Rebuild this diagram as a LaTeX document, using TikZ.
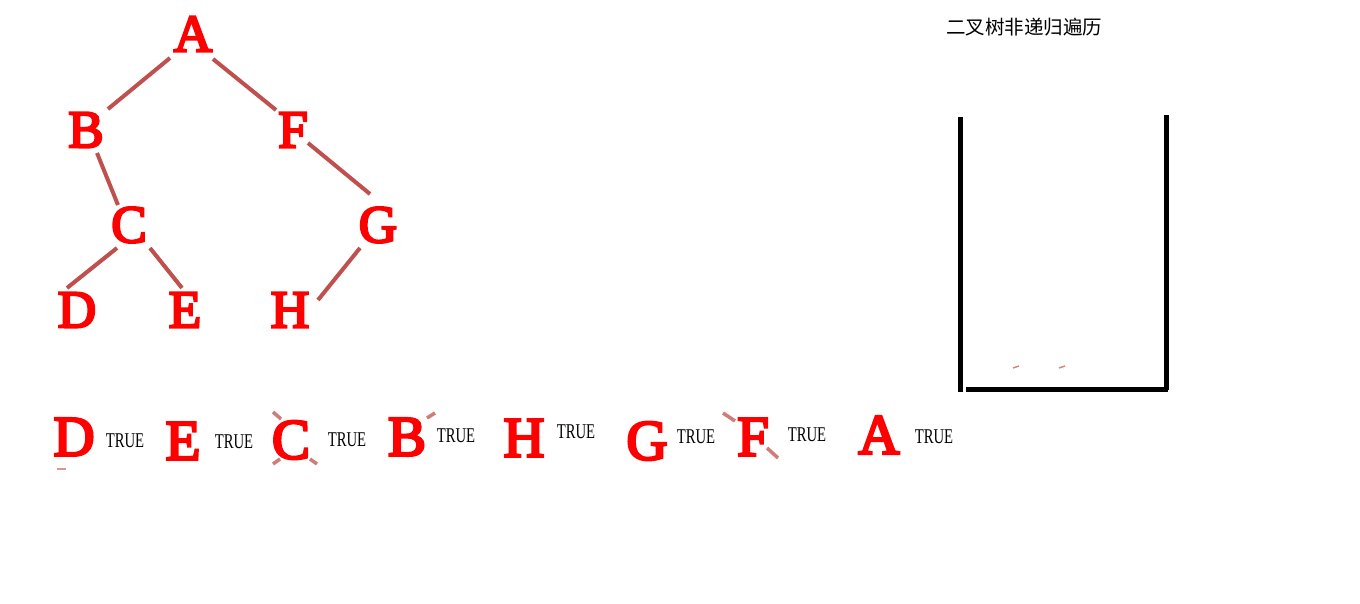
\documentclass[tikz,border=0pt]{standalone}
\usepackage{fontspec}
\setmainfont{Liberation Serif}
\newfontfamily\letterfont{Liberation Serif}[FakeBold=4.5]
\newfontfamily\cjkfont{Noto Sans CJK SC}
\definecolor{edgecol}{RGB}{192,80,77}
\begin{document}
\begin{tikzpicture}[x=1pt,y=-1pt,
  letter/.style={inner sep=0pt, text=red, font=\letterfont\fontsize{53}{53}\selectfont},
  bigletter/.style={inner sep=0pt, text=red, font=\letterfont\fontsize{57}{57}\selectfont},
  truelbl/.style={inner sep=0pt, font=\fontsize{21}{21}\selectfont},
  edge/.style={draw=edgecol, line width=4pt},
  wall/.style={draw=black, line width=5pt},
  frag/.style={draw=edgecol!75, line width=3.5pt}]
\useasboundingbox (0,0) rectangle (1360,604);
% tree
\node[letter] (A) at (193,34) {A};
\node[letter] (B) at (86,130) {B};
\node[letter] (F) at (293,130) {F};
\node[letter] (C) at (129,225) {C};
\node[letter] (G) at (378,225) {G};
\node[letter] (D) at (77,310) {D};
\node[letter] (E) at (185,310) {E};
\node[letter] (H) at (290,310) {H};
\draw[edge] ([shift={(-23,24)}]A.center) -- ([shift={(22,-21)}]B.center);
\draw[edge] ([shift={(20,25)}]A.center) -- ([shift={(-17,-20)}]F.center);
\draw[edge] ([shift={(11,23)}]B.center) -- ([shift={(-11,-20)}]C.center);
\draw[edge] ([shift={(15,13)}]F.center) -- ([shift={(-8,-31)}]G.center);
\draw[edge] ([shift={(-12,23)}]C.center) -- ([shift={(-10,-22)}]D.center);
\draw[edge] ([shift={(21,23)}]C.center) -- ([shift={(-3,-22)}]E.center);
\draw[edge] ([shift={(-18,23)}]G.center) -- ([shift={(28,-10)}]H.center);
% title
\node[inner sep=0pt, font=\cjkfont\fontsize{19.5}{19.5}\selectfont] (title) at (1024,27) {二叉树非递归遍历};
% stack
\draw[wall] (960,117) -- (960,392);
\draw[wall] (1166,115) -- (1166,390);
\draw[wall] (966,389) -- (1168,389);
\draw[edgecol!70, line width=1.5pt] (1013,368) -- (1019,366);
\draw[edgecol!70, line width=1.5pt] (1059,368) -- (1065,366);
% output sequence
\node[bigletter] (oD) at (74,437) {D};
\node[truelbl] (t1) at (125,441) {\scalebox{0.7}[1]{TRUE}};
\node[bigletter] (oE) at (183,441) {E};
\node[truelbl] (t2) at (234,442) {\scalebox{0.7}[1]{TRUE}};
\node[bigletter] (oC) at (291,440) {C};
\node[truelbl] (t3) at (347,440) {\scalebox{0.7}[1]{TRUE}};
\node[bigletter] (oB) at (407,437) {B};
\node[truelbl] (t4) at (456,436) {\scalebox{0.7}[1]{TRUE}};
\node[bigletter] (oH) at (524,438) {H};
\node[truelbl] (t5) at (576,432) {\scalebox{0.7}[1]{TRUE}};
\node[bigletter] (oG) at (647,441) {G};
\node[truelbl] (t6) at (696,437) {\scalebox{0.7}[1]{TRUE}};
\node[bigletter] (oF) at (753,437) {F};
\node[truelbl] (t7) at (807,435) {\scalebox{0.7}[1]{TRUE}};
\node[bigletter] (oA) at (879,435) {A};
\node[truelbl] (t8) at (934,437) {\scalebox{0.7}[1]{TRUE}};
% cropped edge fragments
\draw[frag] (273,412) -- (281,419);
\draw[frag] (273,464) -- (280,459);
\draw[frag] (310,459) -- (317,464);
\draw[frag] (427,418) -- (435,413);
\draw[frag] (723,413) -- (735,421);
\draw[frag] (767,448) -- (778,458);
\draw[edgecol!60, line width=2pt] (57,469) -- (66,469);
\end{tikzpicture}
\end{document}
